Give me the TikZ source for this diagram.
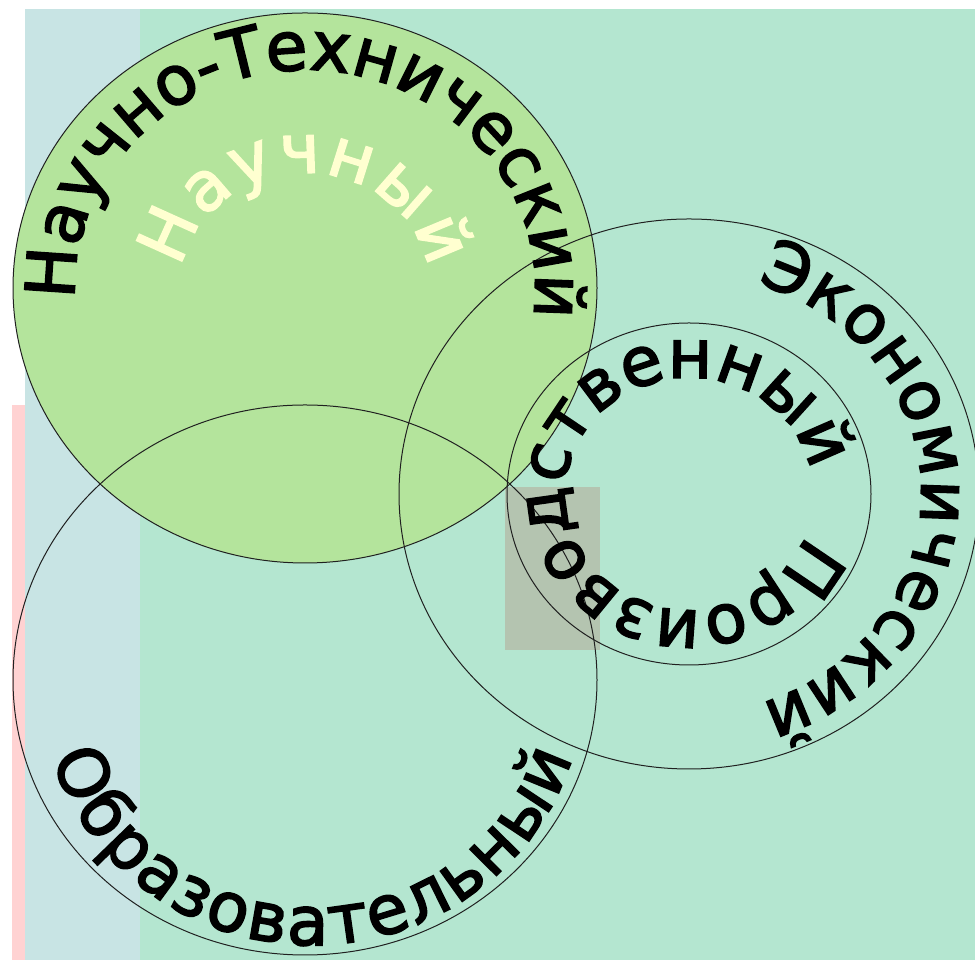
\documentclass[tikz,border=0pt]{standalone}
\usepackage{fontspec}
\setmainfont{DejaVu Sans}
\newfontfamily\ringfont[FakeBold=2.5]{DejaVu Sans}
\usepackage{tikz}
\usetikzlibrary{decorations.text}
\definecolor{clStripPink}{HTML}{FFD2D2}
\definecolor{clStripBlue}{HTML}{C8E4E4}
\definecolor{clField}{HTML}{B4E6D0}
\definecolor{clScience}{HTML}{B4E49C}
\definecolor{clCore}{HTML}{B4C4B0}
\definecolor{clRing}{HTML}{202020}
\definecolor{clCream}{HTML}{FFFFD0}
\newcommand\ringtype{\ringfont\fontsize{68}{72}\selectfont}
\newcommand\innertype{\ringfont\fontsize{68}{72}\selectfont}
\tikzset{
  ring/.style={draw=clRing, line width=1pt},
  arclabel/.style={decorate, decoration={text along path, text align={fit to path}, text color=#1}},
}

\begin{document}
\begin{tikzpicture}[x=1pt, y=1pt]
  \useasboundingbox (0,0) rectangle (975,960);
  % backdrop
  \fill[clStripPink] (12,0) rectangle (25,555);
  \fill[clStripBlue] (25,0) rectangle (140,951);
  \fill[clField] (140,0) rectangle (975,951);

  \coordinate (sci) at (305,672);
  \coordinate (edu) at (305,280);
  \coordinate (eco) at (689,466);

  % fields
  \fill[clScience] (sci) ellipse[x radius=292, y radius=275];
  \fill[clCore] (505,310) rectangle (600,473);
  \draw[ring] (sci) ellipse[x radius=292, y radius=275];
  \draw[ring] (edu) ellipse[x radius=292, y radius=275];
  \draw[ring] (eco) ellipse[x radius=290, y radius=275];
  \draw[ring] (eco) ellipse[x radius=182, y radius=171];

  % ring labels
  \path[arclabel=black, decoration={text={|\ringtype|Научно-Технический}}]
    (sci) ++(183:230 and 218) arc[start angle=183, end angle=-6, x radius=230, y radius=218];
  \path[arclabel=clCream, decoration={text={|\innertype|Научный}}]
    (sci) ++(170:125 and 115) arc[start angle=170, end angle=10, x radius=125, y radius=115];
  \path[arclabel=black, decoration={text={|\ringtype|Экономический}}]
    (eco) ++(73:232 and 220) arc[start angle=73, end angle=-72, x radius=232, y radius=220];
  \path[arclabel=black, decoration={text={|\ringtype|Производственный}}]
    (eco) ++(-20:124 and 116) arc[start angle=-20, end angle=-342, x radius=124, y radius=116];
  \path[arclabel=black, decoration={text={|\ringtype|Образовательный}}]
    ([xshift=7pt]edu) ++(-163:272 and 265) arc[start angle=-163, end angle=-17, x radius=272, y radius=265];
\end{tikzpicture}
\end{document}
